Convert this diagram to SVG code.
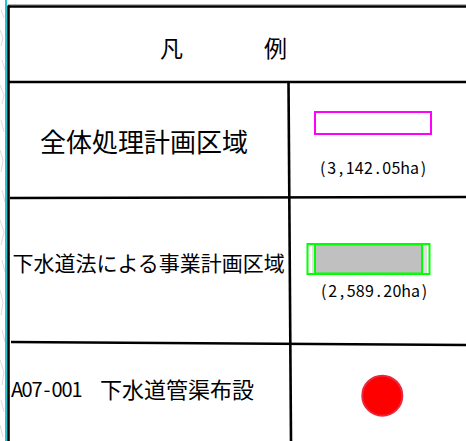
<svg xmlns="http://www.w3.org/2000/svg" width="466" height="441" viewBox="0 0 466 441">
<style>
.t{font-family:"Noto Sans CJK JP","Noto Sans",sans-serif;fill:#000}
.m{font-family:"Noto Sans CJK JP","Noto Sans",sans-serif;fill:#000;text-anchor:middle}
.rule{stroke:#000;stroke-width:2.6;fill:none}
.map{stroke:#c8c8c8;stroke-width:0.7;fill:none}
</style>
<rect x="0" y="0" width="466" height="441" fill="#fff"/>
<g id="map-edge">
<path class="map" d="M1,10 L4,18 M0,30 L3,38 L1,46 M2,60 L5,70 M0,85 L4,95 L2,104 M1,120 L4,132 M0,150 L3,160 L1,172 M2,190 L5,202 M0,220 L4,232 L1,245 M2,260 L5,272 M0,290 L3,302 L1,315 M2,330 L5,342 M0,360 L4,372 L2,385 M1,400 L4,412 M0,425 L3,437"/>
<line x1="6" y1="0" x2="6" y2="441" stroke="#1ec8d2" stroke-width="2"/>
</g>
<g id="table">
<line x1="8" y1="4.5" x2="466" y2="4.5" stroke="#b4b4b4" stroke-width="1"/>
<line class="rule" x1="8" y1="6.5" x2="466" y2="6.5"/>
<line class="rule" x1="8.5" y1="5.5" x2="8.5" y2="441"/>
<line class="rule" x1="8" y1="82" x2="466" y2="82"/>
<line class="rule" x1="10" y1="198" x2="466" y2="197"/>
<line class="rule" x1="11" y1="342" x2="466" y2="345"/>
<line class="rule" x1="288.5" y1="82" x2="291" y2="441"/>
</g>
<g id="title">
<text class="t" x="171.5" y="57" font-size="23" text-anchor="middle">凡</text>
<text class="t" x="275.5" y="57" font-size="23" text-anchor="middle">例</text>
</g>
<g id="row-whole-plan">
<text class="t" x="144" y="152" font-size="26" text-anchor="middle">全体処理計画区域</text>
<rect x="315" y="112" width="116" height="22" fill="none" stroke="#ff00ff" stroke-width="2"/>
<text class="m" font-size="16" y="174" x="322.6 331.8 341.0 350.1 359.3 368.5 377.7 386.8 396.0 405.2 414.4 423.5">(3,142.05ha)</text>
</g>
<g id="row-sewer-law">
<text class="t" x="12.5" y="271" font-size="21">下水道法による事業計画区域</text>
<rect x="312" y="245" width="115" height="28" fill="#e0e0e0"/>
<rect x="315" y="244.5" width="107" height="29" fill="#c0c0c0" stroke="#00ff00" stroke-width="2"/>
<rect x="307.5" y="244" width="122" height="30" fill="none" stroke="#00ff00" stroke-width="2"/>
<text class="m" font-size="16" y="297" x="323.6 332.8 342.0 351.1 360.3 369.5 378.7 387.8 397.0 406.2 415.4 424.5">(2,589.20ha)</text>
</g>
<g id="row-a07-001">
<text class="m" font-size="20" y="397" x="17 27 37 47 57 67 77">A07-001</text>
<text class="t" x="100" y="398" font-size="22">下水道管渠布設</text>
<circle cx="382.3" cy="395.7" r="20" fill="#ff0000" stroke="#e8283c" stroke-width="2"/>
</g>
</svg>
